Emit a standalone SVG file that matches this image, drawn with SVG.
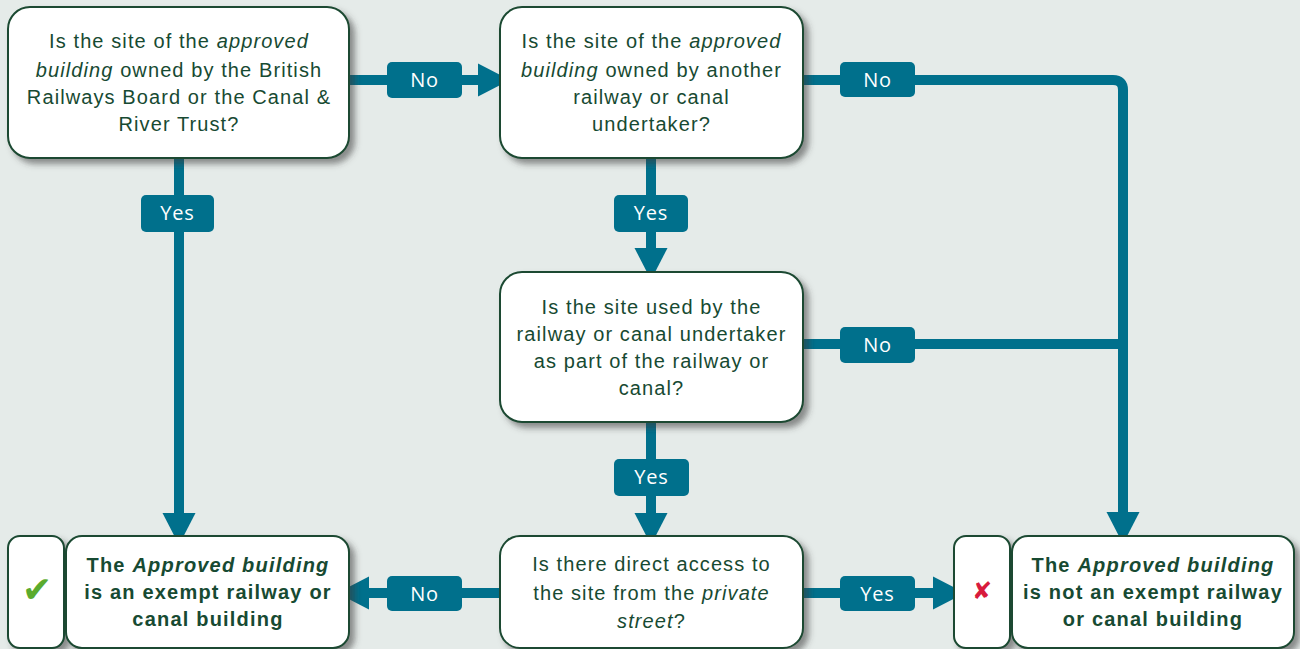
<svg xmlns="http://www.w3.org/2000/svg" width="1300" height="649" viewBox="0 0 1300 649">
  <style>
    .box { fill: #ffffff; stroke: #1b4a32; stroke-width: 2; filter: url(#shadow); }
    .q { font-family: "Liberation Sans", Arial, sans-serif; font-size: 20px; letter-spacing: 1.1px; fill: #174a32; text-anchor: middle; }
    .r { font-family: "Liberation Sans", Arial, sans-serif; font-size: 20px; font-weight: bold; letter-spacing: 1.2px; fill: #174a32; text-anchor: middle; }
    .conn { fill: none; stroke: #00708c; stroke-width: 10; }
    .lab { fill: #00708c; }
    .labt { font-family: "Open Sans", "Liberation Sans", sans-serif; font-size: 20px; letter-spacing: 0.8px; fill: #ffffff; text-anchor: middle; }
    .it { font-style: italic; }
  </style>
  <defs>
    <filter id="shadow" x="-10%" y="-10%" width="130%" height="140%">
      <feDropShadow dx="5" dy="5" stdDeviation="3" flood-color="#3a3a3a" flood-opacity="0.55"/>
    </filter>
    <marker id="arr" markerUnits="userSpaceOnUse" markerWidth="34" markerHeight="34" refX="0" refY="16.5" orient="auto" overflow="visible">
      <path d="M0,0 L32,16.5 L0,33 Z" fill="#00708c"/>
    </marker>
  </defs>
  <rect width="1300" height="649" fill="#e5ebe9"/>

  <g id="connectors">
    <path class="conn" d="M349,80 H478" marker-end="url(#arr)"/>
    <path class="conn" d="M179,158 V513" marker-end="url(#arr)"/>
    <path class="conn" d="M803,80 H1113 Q1123,80 1123,90 V512" marker-end="url(#arr)"/>
    <path class="conn" d="M803,344 H1123"/>
    <path class="conn" d="M651,158 V248" marker-end="url(#arr)"/>
    <path class="conn" d="M651,422 V513" marker-end="url(#arr)"/>
    <path class="conn" d="M500,593 H369" marker-end="url(#arr)"/>
    <path class="conn" d="M803,593 H933" marker-end="url(#arr)"/>
    <g id="labels">
      <rect class="lab" x="387" y="62" width="75" height="36" rx="5"/>
      <text class="labt" x="424.5" y="87">No</text>
      <rect class="lab" x="141" y="195" width="73" height="37" rx="5"/>
      <text class="labt" x="177.5" y="220">Yes</text>
      <rect class="lab" x="840" y="62" width="75" height="35" rx="5"/>
      <text class="labt" x="877.5" y="87">No</text>
      <rect class="lab" x="614" y="195" width="74" height="37" rx="5"/>
      <text class="labt" x="651" y="220">Yes</text>
      <rect class="lab" x="840" y="327" width="75" height="36" rx="5"/>
      <text class="labt" x="877.5" y="352">No</text>
      <rect class="lab" x="614" y="459" width="75" height="37" rx="5"/>
      <text class="labt" x="651.5" y="484">Yes</text>
      <rect class="lab" x="387" y="576" width="75" height="35" rx="5"/>
      <text class="labt" x="424.5" y="601">No</text>
      <rect class="lab" x="840" y="576" width="75" height="35" rx="5"/>
      <text class="labt" x="877.5" y="601">Yes</text>
    </g>
  </g>

  <g id="q1">
    <rect class="box" x="8" y="7" width="341" height="151" rx="22"/>
    <text class="q" x="179" y="48">Is the site of the <tspan class="it">approved</tspan></text>
    <text class="q" x="179" y="77"><tspan class="it">building</tspan> owned by the British</text>
    <text class="q" x="179" y="104">Railways Board or the Canal &amp;</text>
    <text class="q" x="179" y="131">River Trust?</text>
  </g>

  <g id="q2">
    <rect class="box" x="500" y="7" width="303" height="151" rx="22"/>
    <text class="q" x="651.5" y="48">Is the site of the <tspan class="it">approved</tspan></text>
    <text class="q" x="651.5" y="77"><tspan class="it">building</tspan> owned by another</text>
    <text class="q" x="651.5" y="104">railway or canal</text>
    <text class="q" x="651.5" y="131">undertaker?</text>
  </g>

  <g id="q3">
    <rect class="box" x="500" y="272" width="303" height="150" rx="22"/>
    <text class="q" x="651.5" y="314">Is the site used by the</text>
    <text class="q" x="651.5" y="341">railway or canal undertaker</text>
    <text class="q" x="651.5" y="368">as part of the railway or</text>
    <text class="q" x="651.5" y="395">canal?</text>
  </g>

  <g id="q4">
    <rect class="box" x="500" y="536" width="303" height="112" rx="20"/>
    <text class="q" x="651.5" y="571">Is there direct access to</text>
    <text class="q" x="651.5" y="600">the site from the <tspan class="it">private</tspan></text>
    <text class="q" x="651.5" y="628"><tspan class="it">street</tspan>?</text>
  </g>

  <g id="exempt">
    <rect class="box" x="8" y="536" width="56" height="112" rx="12"/>
    <text x="37" y="602" font-family="DejaVu Sans, sans-serif" font-size="36" fill="#5aab2e" text-anchor="middle">✔</text>
    <rect class="box" x="66" y="536" width="283" height="112" rx="16"/>
    <text class="r" x="208" y="572">The <tspan class="it">Approved building</tspan></text>
    <text class="r" x="208" y="599">is an exempt railway or</text>
    <text class="r" x="208" y="626">canal building</text>
  </g>

  <g id="not-exempt">
    <rect class="box" x="954" y="536" width="56" height="112" rx="12"/>
    <text x="982" y="599" font-family="DejaVu Sans, sans-serif" font-size="24" font-weight="bold" fill="#d81b3c" text-anchor="middle">✘</text>
    <rect class="box" x="1012" y="536" width="282" height="112" rx="16"/>
    <text class="r" x="1153" y="572">The <tspan class="it">Approved building</tspan></text>
    <text class="r" x="1153" y="599">is not an exempt railway</text>
    <text class="r" x="1153" y="626">or canal building</text>
  </g>
</svg>
